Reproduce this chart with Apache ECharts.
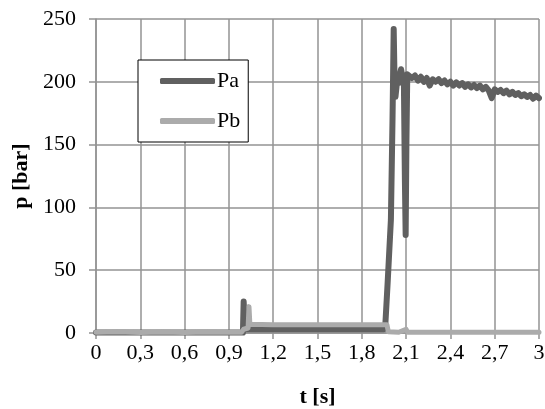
<!DOCTYPE html>
<html>
<head>
<meta charset="utf-8">
<script src="https://cdn.jsdelivr.net/npm/echarts@6/dist/echarts.min.js"></script>
<style>
  html, body { margin: 0; padding: 0; background: #fff; }
  #chart { width: 545px; height: 409px; }
</style>
</head>
<body>
<div id="chart"></div>
<script>
// time [s] and pressure [bar]
var paTime = [0, 0.3, 0.6, 0.9, 0.995, 1.0, 1.008, 1.2, 1.5, 1.8, 1.95,
    1.96, 1.975, 1.997, 2.008, 2.016, 2.022, 2.028, 2.035, 2.042, 2.05, 2.058, 2.066,
    2.075, 2.085, 2.092, 2.097, 2.102, 2.108,
    2.12, 2.14, 2.16, 2.18, 2.2, 2.22, 2.24, 2.26, 2.28, 2.3,
    2.32, 2.34, 2.36, 2.38, 2.4, 2.42, 2.44, 2.46, 2.48, 2.5,
    2.52, 2.54, 2.56, 2.58, 2.6, 2.62, 2.64, 2.66, 2.68, 2.7,
    2.72, 2.74, 2.76, 2.78, 2.8, 2.82, 2.84, 2.86, 2.88, 2.9,
    2.92, 2.94, 2.96, 2.98, 3.0];
var paValue = [0.3, 0.3, 0.3, 0.3, 0.3, 25, 3, 3, 3, 3, 3,
    8, 40, 90, 170, 242, 200, 188, 196, 204, 199, 206, 210,
    204, 200, 120, 78, 150, 206,
    206, 203, 205, 201, 204, 200, 203, 197, 202, 200,
    202, 199, 201, 198, 200, 197, 199.5, 197, 199, 196,
    198, 195.5, 197.5, 195, 197, 194, 196, 193, 187, 194,
    192, 193.5, 191, 193, 190, 192, 189.5, 191, 188.5, 190,
    188, 189.5, 186.5, 189, 187];

var pbTime = [0, 0.15, 0.3, 0.45, 0.6, 0.75, 0.9, 0.985, 1.0, 1.03, 1.036, 1.042,
    1.2, 1.5, 1.8, 1.97, 1.98, 2.05, 2.1, 2.11, 2.4, 2.7, 3.0];
var pbValue = [0.5, 1, 0.4, 0.8, 0.3, 0.7, 0.5, 0.6, 3, 4, 21, 7,
    6.5, 6.5, 6.5, 6.5, 1, 0.6, 3, 0.6, 0.5, 0.5, 0.5];

var xTicks = { min: 0, max: 3, step: 0.3 };
var yTicks = { min: 0, max: 250, step: 50 };

function pairs(t, v) {
    var out = [];
    for (var i = 0; i < t.length; i++) out.push([t[i], v[i]]);
    return out;
}

var font = 'Liberation Serif';
var gridColor = '#939393';

var option = {
    animation: false,
    backgroundColor: '#fff',
    grid: { left: 96, right: 6, top: 19, bottom: 76, outerBoundsMode: 'none', containLabel: false },
    legend: {
        left: 138,
        top: 60,
        orient: 'vertical',
        backgroundColor: '#fff',
        borderColor: '#000',
        borderWidth: 1,
        padding: [10, 8, 10, 22],
        itemWidth: 55,
        itemHeight: 6,
        itemGap: 18,
        icon: 'roundRect',
        textStyle: { fontFamily: font, fontSize: 22, color: '#000', padding: [0, 0, 0, -3] },
        data: ['Pa', 'Pb']
    },
    xAxis: {
        type: 'value',
        min: xTicks.min,
        max: xTicks.max,
        interval: xTicks.step,
        name: 't [s]',
        nameLocation: 'middle',
        nameGap: 53,
        nameMoveOverlap: false,
        nameTextStyle: { fontFamily: font, fontSize: 22, fontWeight: 'bold', color: '#000' },
        axisLine: { show: true, lineStyle: { color: gridColor, width: 1.5 } },
        axisTick: { show: true, length: 6, lineStyle: { color: gridColor, width: 1.5 } },
        axisLabel: {
            fontFamily: font, fontSize: 22, color: '#000', margin: 9,
            showMinLabel: true, showMaxLabel: true,
            formatter: function (v) { return String(+v.toFixed(1)).replace('.', ','); }
        },
        splitLine: { show: true, lineStyle: { color: gridColor, width: 1.5 } }
    },
    yAxis: {
        type: 'value',
        min: yTicks.min,
        max: yTicks.max,
        interval: yTicks.step,
        name: 'p [bar]',
        nameLocation: 'middle',
        nameRotate: 90,
        nameGap: 64,
        nameMoveOverlap: false,
        nameTextStyle: { fontFamily: font, fontSize: 22, fontWeight: 'bold', color: '#000' },
        axisLine: { show: true, lineStyle: { color: gridColor, width: 1.5 } },
        axisTick: { show: true, length: 7, lineStyle: { color: gridColor, width: 1.5 } },
        axisLabel: { fontFamily: font, fontSize: 22, color: '#000', margin: 20 },
        splitLine: { show: true, lineStyle: { color: gridColor, width: 1.5 } }
    },
    series: [
        {
            name: 'Pa',
            type: 'line',
            showSymbol: false,
            symbol: 'none',
            color: '#606060',
            lineStyle: { width: 6, color: '#606060', cap: 'round', join: 'round' },
            data: pairs(paTime, paValue)
        },
        {
            name: 'Pb',
            type: 'line',
            showSymbol: false,
            symbol: 'none',
            color: '#ababab',
            lineStyle: { width: 5, color: '#ababab', cap: 'round', join: 'round' },
            data: pairs(pbTime, pbValue)
        }
    ]
};

var chart = echarts.init(document.getElementById('chart'));
chart.setOption(option);
</script>
</body>
</html>
